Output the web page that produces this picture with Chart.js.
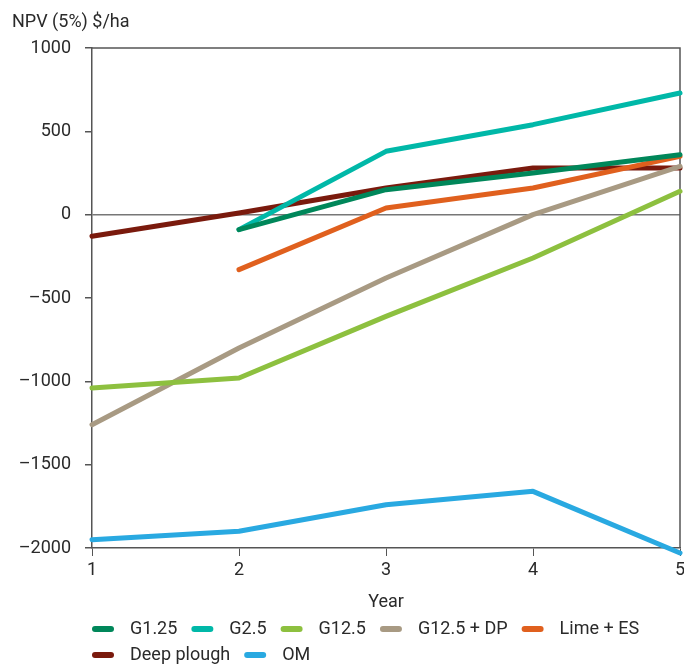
<!DOCTYPE html>
<html>
<head>
<meta charset="utf-8">
<script src="https://cdn.jsdelivr.net/npm/chart.js@4/dist/chart.umd.min.js"></script>
<style>
  html, body { margin: 0; padding: 0; background: #fff; }
  #wrap { width: 684px; height: 664px; position: relative; overflow: hidden; }
</style>
</head>
<body>
<div id="wrap"><canvas id="c" width="684" height="664"></canvas></div>
<script>
// Net present value by year for each treatment
const years = ['1', '2', '3', '4', '5'];
const g125      = [null, -90, 150, 250, 360];
const g25       = [null, -90, 380, 540, 730];
const g125Gyp   = [-1040, -980, -610, -260, 140];
const g125DP    = [-1260, -800, -380, 0, 290];
const limeES    = [null, -330, 40, 160, 350];
const deepPlough = [-130, 10, 160, 280, 280];
const om        = [-1950, -1900, -1740, -1660, -2030];

const seriesNames = ['G1.25', 'G2.5', 'G12.5', 'G12.5 + DP', 'Lime + ES', 'Deep plough', 'OM'];
const seriesColors = ['#00875a', '#00b8a8', '#8dc03f', '#a89a83', '#e0601e', '#7a1a0d', '#29a9e1'];
const seriesData = [g125, g25, g125Gyp, g125DP, limeES, deepPlough, om];

const yTicks = [1000, 500, 0, -500, -1000, -1500, -2000];

const FONT = "'Roboto', 'Liberation Sans', sans-serif";
const TEXT = '#2a2a2a';
const AXIS = '#555';

const fmt = v => (v < 0 ? '\u2013' + Math.abs(v) : String(v));

// Frame lines on top/right, y-axis heading and the legend below the axis
const decor = {
  id: 'decor',
  beforeDatasetsDraw(chart) {
    const { ctx, chartArea: a } = chart;
    ctx.save();
    ctx.strokeStyle = AXIS;
    ctx.lineWidth = 1.5;
    ctx.beginPath();
    ctx.moveTo(a.left, a.top);
    ctx.lineTo(a.right, a.top);
    ctx.lineTo(a.right, a.bottom);
    ctx.stroke();
    ctx.restore();
  },
  afterDraw(chart) {
    const { ctx } = chart;
    ctx.save();
    ctx.font = '18px ' + FONT;
    ctx.fillStyle = TEXT;
    ctx.textBaseline = 'middle';
    ctx.textAlign = 'left';
    ctx.fillText('NPV (5%) $/ha', 12, 22);

    // legend
    const startX = 92, rowY = [629, 655], maxX = 680;
    let x = startX, row = 0;
    chart.data.datasets.forEach(ds => {
      const tw = ctx.measureText(ds.label).width;
      const itemW = 22 + 16 + tw;
      if (x + itemW > maxX) { row++; x = startX; }
      const y = rowY[row];
      ctx.strokeStyle = ds.borderColor;
      ctx.lineWidth = 6;
      ctx.lineCap = 'round';
      ctx.beginPath();
      ctx.moveTo(x + 3, y);
      ctx.lineTo(x + 19, y);
      ctx.stroke();
      ctx.fillStyle = TEXT;
      ctx.fillText(ds.label, x + 38, y);
      x += itemW + 14;
    });
    ctx.restore();
  }
};

new Chart(document.getElementById('c'), {
  type: 'line',
  data: {
    labels: years,
    datasets: seriesNames.map((name, i) => ({
      label: name,
      data: seriesData[i],
      borderColor: seriesColors[i],
      backgroundColor: seriesColors[i],
      borderWidth: 5,
      borderCapStyle: 'round',
      borderJoinStyle: 'round',
      pointRadius: 0,
      tension: 0,
      fill: false,
      clip: false
    }))
  },
  options: {
    responsive: false,
    animation: false,
    layout: { padding: { top: 48, right: 4, bottom: 0, left: 0 } },
    plugins: {
      legend: { display: false },
      title: { display: false },
      tooltip: { enabled: false }
    },
    scales: {
      x: {
        type: 'category',
        offset: false,
        border: { display: true, color: AXIS, width: 1.5 },
        grid: { drawOnChartArea: false, tickLength: 8, color: AXIS, tickColor: AXIS },
        ticks: { color: TEXT, font: { family: FONT, size: 18 }, padding: 4, maxRotation: 0 },
        title: { display: true, text: 'Year', color: TEXT, font: { family: FONT, size: 18 }, padding: { top: 0, bottom: 51 } },
        afterFit(scale) {
          scale.height = 116;
          scale.paddingLeft = 0;
          scale.paddingRight = 0;
        }
      },
      y: {
        min: -2000,
        max: 1000,
        afterBuildTicks(scale) { scale.ticks = yTicks.map(v => ({ value: v })); },
        border: { display: true, color: AXIS, width: 1.5 },
        grid: {
          drawOnChartArea: true,
          tickLength: 7,
          tickColor: AXIS,
          color: c => (c.tick && c.tick.value === 0 ? '#777' : 'rgba(0,0,0,0)'),
          lineWidth: 1.5
        },
        ticks: { color: TEXT, font: { family: FONT, size: 18 }, padding: 14, callback: v => fmt(v) },
        afterFit(scale) { scale.width = 92; }
      }
    }
  },
  plugins: [decor]
});
</script>
</body>
</html>
